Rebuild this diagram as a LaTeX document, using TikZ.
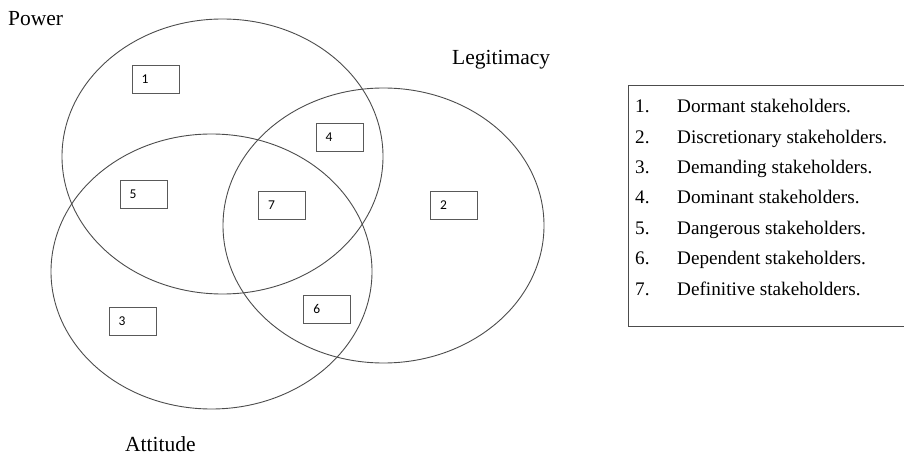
\documentclass[tikz,border=0pt]{standalone}
\usepackage{fontspec}
\setmainfont{Liberation Serif}
\newfontfamily\boxfont{Carlito}
\tikzset{
  setline/.style={draw=black!70,line width=0.9pt},
  numbox/.style={draw=black!65,line width=1pt,minimum width=47pt,minimum height=28pt,
    text width=28pt,inner xsep=9.5pt,inner ysep=0pt,align=left,
    font=\boxfont\fontsize{13.5}{15}\selectfont},
  setlabel/.style={anchor=base west,inner sep=0pt,font=\fontsize{21.5}{25}\selectfont},
  legitem/.style={anchor=base west,inner sep=0pt,font=\fontsize{19.2}{23}\selectfont}
}
\begin{document}
\begin{tikzpicture}[x=1pt,y=-1pt]
   \useasboundingbox (0,0) rectangle (904,454);

   % the three attributes
   \draw[setline] (222.5,156.5) ellipse [x radius=160.5pt, y radius=137.5pt];
   \draw[setline] (383.5,225.5) ellipse [x radius=160.5pt, y radius=137.5pt];
   \draw[setline] (211.5,271.5) ellipse [x radius=160.5pt, y radius=137.5pt];

   \node[setlabel] (power) at (8,26) {Power};
   \node[setlabel] (legit) at (452,65) {Legitimacy};
   \node[setlabel] (attitude) at (125,451) {Attitude};

   % classes
   \node[numbox] (c1) at (155.5,79.5) {1};
   \node[numbox] (c4) at (339.5,137.3) {4};
   \node[numbox] (c5) at (143.5,194.2) {5};
   \node[numbox] (c7) at (282,205.5) {7};
   \node[numbox] (c2) at (454.2,205.5) {2};
   \node[numbox] (c3) at (132.7,321.2) {3};
   \node[numbox] (c6) at (327.3,309.3) {6};

   % legend
   \draw[draw=black!70,line width=1pt] (628,86) rectangle (912,326);
   \foreach \n/\txt [count=\i from 0] in {1/Dormant,2/Discretionary,3/Demanding,4/Dominant,
       5/Dangerous,6/Dependent,7/Definitive}{
     \node[legitem] (num\n) at (635,112.7+30.4*\i) {\n.};
     \node[legitem] (leg\n) at (677,112.7+30.4*\i) {\txt\ stakeholders.};
   }
\end{tikzpicture}
\end{document}
